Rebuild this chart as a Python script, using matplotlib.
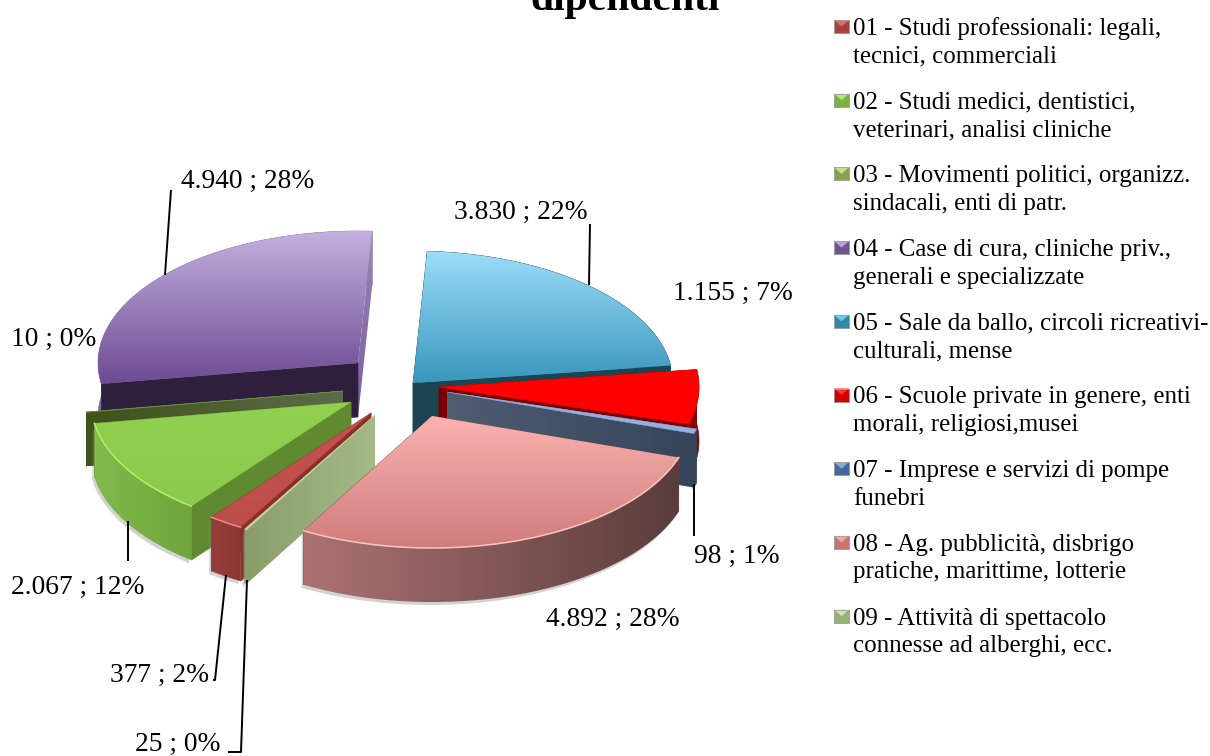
import numpy as np
import matplotlib
matplotlib.use("Agg")
import matplotlib.pyplot as plt
from matplotlib.colors import LinearSegmentedColormap
from matplotlib.patches import Polygon

# ── Data ──────────────────────────────────────────────────────────────────────
values = [377, 2067, 10, 4940, 3830, 1155, 98, 4892, 25]
legend_labels = [
    ("01 - Studi professionali: legali,", "tecnici, commerciali"),
    ("02 - Studi medici, dentistici,", "veterinari, analisi cliniche"),
    ("03 - Movimenti politici, organizz.", "sindacali, enti di patr."),
    ("04 - Case di cura, cliniche priv.,", "generali e specializzate"),
    ("05 - Sale da ballo, circoli ricreativi-", "culturali, mense"),
    ("06 - Scuole private in genere, enti", "morali, religiosi,musei"),
    ("07 - Imprese e servizi di pompe", "funebri"),
    ("08 - Ag. pubblicità, disbrigo", "pratiche, marittime, lotterie"),
    ("09 - Attività di spettacolo", "connesse ad alberghi, ecc."),
]
title_text = "dipendenti"

# ── Layout ────────────────────────────────────────────────────────────────────
CX, CY = 392, 385
RX, RY = 260, 132
DEPTH = 54
START_ANGLE = 210.1
offset_x = [-21, -41, -49, -34, 21, 47, 55, 40, -17]
offset_y = [28, 17, 6, -22, -2, 2, 7, 31, 30]
draw_order = [3, 4, 2, 1, 5, 6, 0, 8, 7]

# top gradient (up, down), edge wall gradient (c0, c1), arc gradient (left, right)
top_colors = [
    ("#c4524e", "#bc4e4a"), ("#92d050", "#8bc94c"), ("#6e8a3c", "#6e8a3c"),
    ("#c3b0de", "#6c4c92"), ("#9cdefa", "#3996bd"), ("#ff0000", "#ff0000"),
    ("#93aee0", "#93aee0"), ("#fab2b0", "#cf7d7b"), ("#c4d89e", "#c4d89e"),
]
wall_colors = [
    ("#8c2f2c", "#8c2f2c"), ("#5f8a2f", "#5f8a2f"), ("#3f5219", "#5c6b4a"),
    ("#2e203c", "#2e203c"), ("#1a4553", "#1a4553"), ("#7a0000", "#7a0000"),
    ("#4f5c72", "#364559"), ("#6a4a4a", "#6a4a4a"), ("#8a9e6a", "#a5ba86"),
]
arc_colors = [
    ("#953e3a", "#8a3834"), ("#82ba4c", "#6fa53b"), ("#3f5219", "#3f5219"),
    ("#8064a8", "#8064a8"), ("#1a4553", "#1a4553"), ("#8b0000", "#8b0000"),
    ("#364559", "#364559"), ("#ac7272", "#5a3c3c"), ("#8a9e6a", "#8a9e6a"),
]
rim_colors = [
    "#f08a86", "#b4f06a", None, None, None, None, None, "#ffc4c2", None,
]
marker_colors = [
    ("#d8706c", "#a8403c"), ("#b0e870", "#7cb040"), ("#c8dc98", "#88a050"),
    ("#b8a0d8", "#70548f"), ("#70cce4", "#2f8aa5"), ("#ff3030", "#d00000"),
    ("#88a8dc", "#44689c"), ("#f0a8a6", "#c87472"), ("#d0e4a8", "#98b070"),
]

# label anchor: left x, centre y
label_pos = [
    (110, 675), (11, 587), (11, 339), (181, 181), (454, 212),
    (673, 293), (694, 556), (546, 619), (135, 744),
]
leader_lines = [
    [(226, 575), (215, 680), (213, 680)],
    [(128, 521), (128, 561)],
    [],
    [(171, 190), (165, 275)],
    [(590, 224), (589, 285)],
    [],
    [(694, 484), (694, 536)],
    [],
    [(247, 580), (241, 752), (228, 752)],
]

plt.rcParams["font.family"] = ["Liberation Serif", "DejaVu Serif"]

fig = plt.figure(figsize=(12.1, 7.56), dpi=100)
ax = fig.add_axes([0, 0, 1, 1])
ax.axis("off")


def grad_fill(pts, c0, c1, axis, z):
    """Polygon with a linear gradient (axis 0: vertical, 1: horizontal)."""
    pts = np.asarray(pts)
    x0, y0 = pts.min(axis=0)
    x1, y1 = pts.max(axis=0)
    if c0 == c1:
        ax.add_patch(Polygon(pts, closed=True, fc=c0, ec=c0, lw=0.4, zorder=z))
        return
    cmap = LinearSegmentedColormap.from_list("g", [c0, c1])
    ramp = np.linspace(0, 1, 128)
    grad = ramp[:, None] if axis == 0 else ramp[None, :]
    im = ax.imshow(grad, cmap=cmap, vmin=0, vmax=1, extent=(x0, x1, y1, y0),
                   origin="upper", aspect="auto", zorder=z, interpolation="bilinear")
    clip = Polygon(pts, closed=True, fc="none", ec="none", zorder=z)
    ax.add_patch(clip)
    im.set_clip_path(clip)


def arc_pts(ax0, ay0, a0, a1):
    th = np.radians(np.linspace(a0, a1, max(int(abs(a1 - a0) * 2), 2)))
    return np.column_stack([ax0 + RX * np.sin(th), ay0 - RY * np.cos(th)])


def extrude(edge):
    edge = np.asarray(edge)
    return np.vstack([edge, (edge + [0, DEPTH])[::-1]])


# ── Pie slices ────────────────────────────────────────────────────────────────
total = sum(values)
sweeps = [v / total * 360 for v in values]
starts = [START_ANGLE + sum(sweeps[:i]) for i in range(len(values))]

z = 2
for i in draw_order:
    a0, a1 = starts[i], starts[i] + max(sweeps[i], 0.2)
    px, py = CX + offset_x[i], CY + offset_y[i]
    arc = arc_pts(px, py, a0, a1)
    apex = np.array([[px, py]])
    front = np.cos(np.radians((a0 + a1) / 2)) < 0

    wall_start = extrude(np.vstack([apex, arc[:1]]))
    wall_end = extrude(np.vstack([apex, arc[-1:]]))
    arc_wall = extrude(arc)

    # soft shadow under the lower faces
    if front:
        shadow = arc_wall + [-2, 3]
        ax.add_patch(Polygon(shadow, closed=True, fc="#808080", ec="none", alpha=0.35, zorder=z))
        z += 1

    if not front:
        grad_fill(arc_wall, *arc_colors[i], 1, z)
        z += 1
    walls = sorted([wall_start, wall_end], key=lambda w: w[:, 1].mean())
    for w in walls:
        axis = 1
        c0, c1 = wall_colors[i]
        if i == 3 and w is wall_end:
            c0, c1, axis = "#9a86b6", "#7a5c9e", 0
        grad_fill(w, c0, c1, axis, z)
        z += 1
    if front:
        grad_fill(arc_wall, *arc_colors[i], 1, z)
        z += 1

    top = np.vstack([apex, arc])
    grad_fill(top, *top_colors[i], 0, z)
    z += 1
    if rim_colors[i]:
        ax.plot(arc[:, 0], arc[:, 1], color=rim_colors[i], lw=1.1, zorder=z)
        z += 1

# ── Labels and leader lines ───────────────────────────────────────────────────
LABEL_SIZE = 19.8
for v, (lx, ly), line in zip(values, label_pos, leader_lines):
    pct = round(v / total * 100)
    txt = f"{v:,}".replace(",", ".") + f" ; {pct}%"
    ax.text(lx, ly, txt, fontsize=LABEL_SIZE, ha="left", va="center", color="black", zorder=100)
    if line:
        xs, ys = zip(*line)
        ax.plot(xs, ys, color="black", lw=1.4, zorder=99, solid_capstyle="butt")

ax.text(625, 10, title_text, fontsize=30, fontweight="bold", ha="center", va="baseline", zorder=100)

# ── Legend ────────────────────────────────────────────────────────────────────
LEGEND_SIZE = 17.9
for i, (first, second) in enumerate(legend_labels):
    y = 27 + 73.7 * i
    ty = y + 2
    mx0, mx1, my0, my1 = 834, 849, y - 7, y + 6
    square = [(mx0, my0), (mx1, my0), (mx1, my1), (mx0, my1)]
    grad_fill(square, marker_colors[i][1], marker_colors[i][1], 0, 50)
    ax.add_patch(Polygon([(mx0, my0), (mx1, my0), ((mx0 + mx1) / 2, (my0 + my1) / 2)],
                         closed=True, fc=marker_colors[i][0], ec="none", zorder=51))
    ax.add_patch(Polygon(square, closed=True, fc="none", ec="#a0a0a0", lw=0.6, zorder=52))
    ax.text(853, ty, first, fontsize=LEGEND_SIZE, ha="left", va="center", zorder=100)
    ax.text(853, ty + 27.5, second, fontsize=LEGEND_SIZE, ha="left", va="center", zorder=100)

ax.set_xlim(0, 1210)
ax.set_ylim(756, 0)
fig.savefig("out.png", dpi=100)
